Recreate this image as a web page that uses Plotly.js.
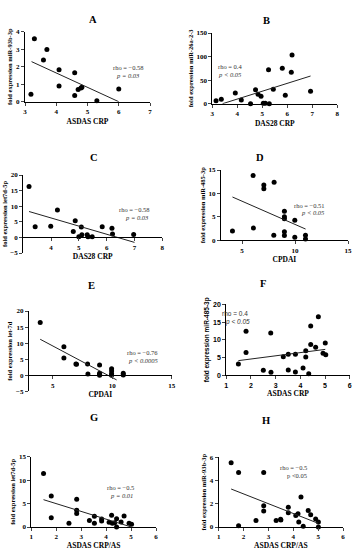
<!DOCTYPE html>
<html><head><meta charset="utf-8">
<script src="https://cdn.plot.ly/plotly-3.0.1.min.js"></script>
<style>html,body{margin:0;padding:0;background:#fff}#c{width:355px;height:550px}</style>
</head><body><div id="c"></div>
<script>
// ---- data ----
const panelLetters = ["A","B","C","D","E","F","G","H"];
const xTitles = ["ASDAS CRP","DAS28 CRP","DAS28 CRP","CPDAI","CPDAI","ASDAS CRP","ASDAS CRP/AS","ASDAS CRP/AS"];
const yTitles = ["fold expression miR-93b-3p","fold expression miR-26a-2-3","fold expression let7d-5p","fold expression miR-485-3p",
                 "fold expression let-7d","fold expression miR-485-3p","fold expression let7d-5p","fold expression miR-93b-3p"];
const rhoTexts = ["rho = \u22120.58","rho = 0.4","rho = \u22120.58","rho = \u22120.51","rho = \u22120.76","rho = 0.4","rho = \u22120.5","rho = \u22120.5"];
const pTexts = ["p = 0.03","p < 0.05","p = 0.03","p < 0.05","p < 0.0005","p < 0.05","p = 0.01","p <0.05"];

const A_x = [3.19,3.3,3.7,3.59,4.09,4.09,4.59,4.59,4.7,4.79,4.82,5.3,6.0];
const A_y = [0.42,3.6,2.99,2.38,1.83,0.9,1.66,0.36,0.7,0.78,0.82,0.06,0.72];
const A_fit_x = [3.21,6.0], A_fit_y = [2.29,0];

const B_x = [3.15,3.36,3.92,4.16,4.53,4.73,4.83,4.95,5.04,5.12,5.25,5.28,5.44,5.8,5.92,6.16,6.19,6.93];
const B_y = [6.4,9.2,22.6,7.8,0,29.7,19.8,15.6,0.7,0.7,72.2,0,30.4,75,17.7,66.5,103.3,26.2];
const B_fit_x = [3.41,6.93], B_fit_y = [0,58.7];

const C_x = [3.21,3.43,3.99,4.23,4.8,4.87,5.0,5.09,5.11,5.3,5.33,5.48,5.84,6.19,6.21,6.97];
const C_y = [16.3,3.4,3.6,8.8,1.9,5.3,0.2,3.3,0.85,0.85,0.2,0.2,3.4,2.9,1.06,0.96];
const C_fit_x = [3.21,7.0], C_fit_y = [8.3,-1.6];

const D_x = [4.1,6.05,6.08,7.06,7.06,8.03,8.0,9,9,9,9,9,9.98,9.98,10.99,10.99];
const D_y = [2.0,13.8,2.6,11.8,11.0,12.4,1.1,6.2,5.0,4.6,1.8,1.0,4.3,0.64,1.1,0.3];
const D_fit_x = [4.1,11.0], D_fit_y = [9.24,2.4];

const E_x = [3.95,5.94,5.94,6.95,7.0,7.93,7.96,8.94,8.94,8.94,8.94,9.95,9.95,9.95,9.95,10.93,10.93];
const E_y = [16.4,8.9,5.4,3.5,3.4,3.5,0.4,3.2,0.6,0.3,0,2.0,1.35,0.5,0,0.6,0.1];
const E_fit_x = [3.95,10.37], E_fit_y = [11.2,-1.45];

const F_x = [1.49,1.8,1.8,2.5,2.8,2.81,3.31,3.51,3.51,3.8,3.8,4.11,4.22,4.22,4.34,4.42,4.42,4.62,4.73,4.92,5.01,5.03];
const F_y = [3.2,12.4,6.4,1.4,11.9,0.85,5.26,5.9,1.5,5.9,0.94,2.07,6.95,5.16,0.47,8.7,13.9,7.9,16.5,6.2,9.1,5.8];
const F_fit_x = [1.49,5.01], F_fit_y = [4.13,7.3];

const G_x = [1.49,1.8,1.8,2.51,2.82,2.82,2.82,3.33,3.53,3.53,3.82,3.82,4.12,4.22,4.25,4.34,4.42,4.42,4.6,4.72,4.92,5.02];
const G_y = [11.4,6.6,2.0,0.78,5.9,3.6,2.9,1.4,2.27,0.78,1.28,1.7,1.0,2.5,0.78,0.9,1.78,0,1.07,2.35,0.78,0.57];
const G_fit_x = [1.49,5.01], G_fit_y = [5.83,0];

const H_x = [1.5,1.8,1.8,2.5,2.81,2.81,2.81,3.31,3.49,3.5,3.8,3.8,4.1,4.19,4.22,4.31,4.4,4.6,4.7,4.9,5.01,5.01];
const H_y = [5.54,4.7,0.11,0.57,4.7,1.84,1.38,0.55,0.66,0.6,1.7,1.23,1.0,1.15,0.43,2.58,0.06,1.43,1.06,0.69,0.43,0];
const H_fit_x = [1.5,5.0], H_fit_y = [3.27,0.32];

const xRanges = [[3,7],[3,8],[3,8],[3,15],[3,15],[1,6],[1,6],[1,6]];
const yRanges = [[0,4],[0,150],[-5,20],[0,15],[-5,20],[0,20],[0,15],[0,6]];
const xTicks = [[3,4,5,6,7],[3,4,5,6,7,8],[4,5,6,7,8],[5,10,15],[5,10,15],[1,2,3,4,5,6],[1,2,3,4,5,6],[1,2,3,4,5,6]];
const yTicks = [[0,1,2,3,4],[0,50,100,150],[-5,0,5,10,15,20],[0,5,10,15],[-5,0,5,10,15,20],[0,5,10,15,20],[0,5,10,15],[0,2,4,6]];

const series = [[A_x,A_y,A_fit_x,A_fit_y],[B_x,B_y,B_fit_x,B_fit_y],[C_x,C_y,C_fit_x,C_fit_y],[D_x,D_y,D_fit_x,D_fit_y],
                [E_x,E_y,E_fit_x,E_fit_y],[F_x,F_y,F_fit_x,F_fit_y],[G_x,G_y,G_fit_x,G_fit_y],[H_x,H_y,H_fit_x,H_fit_y]];

// ---- layout geometry (pixels) ----
const W = 355, Hh = 550;
const px = v => v / W, py = v => 1 - v / Hh;
// [xLeft, xRight, yTop, yBottom]
const boxes = [
  [25,150,31.7,101.7],[212.3,337.3,33,103.7],
  [23.2,162.3,175,253],[220.8,348,170,240.3],
  [28.9,171.7,311,391.3],[226.3,349.7,304.3,375.3],
  [31.3,156,456.7,527],[218.7,343,457.3,527]];
const letterPos = [[87,12],[272,13],[88,150],[266,150],[86,285],[268,283],[88,425],[272,428]];
const rhoPos = [[112,63],[230,62],[134,209],[326,205],[142,352],[249,313.5],[120,492],[308,472]];
const pGap = 8;
const pShift = [3,0,3,0,1,2,1,0];
const pItalic = [true,true,true,true,true,true,true,false];

const serif = "Liberation Serif, Times New Roman, serif";
const sans = "Liberation Sans, Arial, sans-serif";

const traces = [];
const layout = {width:W, height:Hh, margin:{l:0,r:0,t:0,b:0}, showlegend:false,
  paper_bgcolor:"#fff", plot_bgcolor:"rgba(0,0,0,0)", annotations:[]};

series.forEach((s,i) => {
  const n = i === 0 ? "" : String(i+1);
  const xa = "x"+n, ya = "y"+n;
  traces.push({type:"scatter", mode:"markers", x:s[0], y:s[1], xaxis:xa, yaxis:ya,
    marker:{color:"#000", size:5}, cliponaxis:false, hoverinfo:"skip"});
  traces.push({type:"scatter", mode:"lines", x:s[2], y:s[3], xaxis:xa, yaxis:ya,
    line:{color:"#222", width:1}, cliponaxis:false, hoverinfo:"skip"});
  const b = boxes[i];
  const fam = i === 5 ? sans : serif;
  const yDom = [py(b[3]), py(b[2])];
  const xax = {domain:[px(b[0]),px(b[1])], range:xRanges[i], tickvals:xTicks[i], anchor:ya,
    showline:true, linecolor:"#000", linewidth:1, ticks:"outside", ticklen:3, tickwidth:1,
    showgrid:false, zeroline:false, tickfont:{family:fam, size:7, color:"#000", weight:"bold"},
    title:{text:xTitles[i], standoff:3, font:{family:serif, size:7.5, color:"#000", weight:"bold"}}};
  if (yRanges[i][0] < 0) {
    const r = yRanges[i];
    xax.anchor = "free";
    xax.position = yDom[0] + (0 - r[0]) / (r[1] - r[0]) * (yDom[1] - yDom[0]);
    xax.title.standoff = 1;
  }
  layout["xaxis"+n] = xax;
  layout["yaxis"+n] = {domain:yDom, range:yRanges[i], tickvals:yTicks[i], anchor:xa,
    showline:true, linecolor:"#000", linewidth:1, ticks:"outside", ticklen:3, tickwidth:1,
    showgrid:false, zeroline:false, tickfont:{family:fam, size:7, color:"#000", weight:"bold"},
    title:{text:yTitles[i], standoff:2, font:{family:fam, size:6.5, color:"#000", weight:"bold"}}};
  layout.annotations.push({xref:"paper", yref:"paper", x:px(letterPos[i][0]), y:py(letterPos[i][1]),
    text:panelLetters[i], showarrow:false, font:{family:serif, size:10.5, color:"#000", weight:"bold"}});
  layout.annotations.push({xref:"paper", yref:"paper", x:px(rhoPos[i][0]), y:py(rhoPos[i][1]),
    text:rhoTexts[i], showarrow:false, borderpad:0,
    font:{family:fam, size:6.5, color:"#333"}});
  layout.annotations.push({xref:"paper", yref:"paper", x:px(rhoPos[i][0] + pShift[i]), y:py(rhoPos[i][1] + pGap),
    text:pTexts[i], showarrow:false, borderpad:0,
    font:{family:fam, size:6.5, color:"#333", style: pItalic[i] ? "italic" : "normal"}});
});

Plotly.newPlot("c", traces, layout, {staticPlot:true, displayModeBar:false});
</script></body></html>
